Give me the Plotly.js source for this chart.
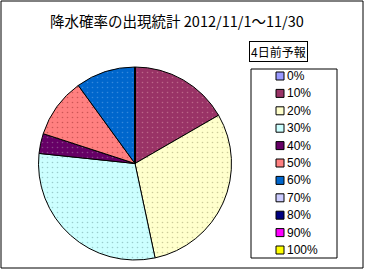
<!DOCTYPE html>
<html><head><meta charset="utf-8">
<script src="https://cdn.plot.ly/plotly-3.0.1.min.js"></script>
<style>html,body{margin:0;padding:0;background:#fff}</style>
</head><body>
<div id="chart" style="width:365px;height:271px"></div>
<script>
const categories = ["0%","10%","20%","30%","40%","50%","60%","70%","80%","90%","100%"];
const counts = [0,5,9,9,1,3,3,0,0,0,0];
const colors = ["#9999FF","#993366","#FFFFCC","#CCFFFF","#660066","#FF8080","#0066CC","#CCCCFF","#000080","#FF00FF","#FFFF00"];
const dotColors = ["#7777DD","#BB6688","#CCCC99","#99CCCC","#884488","#CC5555","#3388DD","#AAAADD","#2222AA","#DD44DD","#DDDD44"];
const titleText = "降水確率の出現統計 2012/11/1～11/30";
const subTitle = "4日前予報";

const W = 365, H = 271;
const px = x => x / W, py = y => 1 - y / H;

const trace = {
  type: "pie",
  labels: categories,
  values: counts,
  sort: false,
  direction: "clockwise",
  rotation: 0,
  textinfo: "none",
  hoverinfo: "label+value",
  showlegend: false,
  marker: {colors: colors, line: {color: "#000", width: 1},
           pattern: {shape: ".", size: 5, solidity: 0.08, fgcolor: dotColors, bgcolor: colors}},
  domain: {x: [px(38.5), px(231.5)], y: [py(260), py(67)]}
};

// manual legend built from the category / colour arrays
const legTop = 76, legStep = 17.4, iconX = 276, iconSize = 8, textX = 285;
const shapes = [
  {type: "rect", xref: "paper", yref: "paper", x0: px(1), x1: px(363), y0: py(268), y1: py(1),
   line: {color: "#000", width: 1}},
  {type: "rect", xref: "paper", yref: "paper", x0: px(251), x1: px(337), y0: py(258), y1: py(69),
   line: {color: "#000", width: 1}, fillcolor: "#fff"}
];
const annotations = [
  {text: subTitle, xref: "paper", yref: "paper", x: px(278), y: py(51),
   xanchor: "center", yanchor: "middle", showarrow: false,
   bordercolor: "#000", borderwidth: 1, borderpad: 1,
   font: {family: "Noto Sans CJK JP", size: 12, color: "#000"}}
];
categories.forEach((c, i) => {
  const yc = legTop + legStep * i;
  shapes.push({type: "rect", xref: "paper", yref: "paper",
    x0: px(iconX), x1: px(iconX + iconSize), y0: py(yc + iconSize / 2), y1: py(yc - iconSize / 2),
    line: {color: "#000", width: 1}, fillcolor: colors[i]});
  annotations.push({text: c, xref: "paper", yref: "paper", x: px(textX), y: py(yc),
    xanchor: "left", yanchor: "middle", showarrow: false,
    font: {family: "Liberation Sans, Arial, sans-serif", size: 12, color: "#000"}});
});

const layout = {
  width: W, height: H,
  margin: {l: 0, r: 0, t: 0, b: 0},
  paper_bgcolor: "#fff",
  font: {family: "Liberation Sans, Arial, sans-serif", color: "#000"},
  title: {text: titleText, x: px(177), xanchor: "center", y: py(22), yanchor: "middle",
          font: {family: "Noto Sans CJK JP", size: 14.5, color: "#000"}},
  showlegend: false,
  annotations: annotations,
  shapes: shapes
};

Plotly.newPlot("chart", [trace], layout, {displayModeBar: false, staticPlot: true});
</script>
</body></html>
